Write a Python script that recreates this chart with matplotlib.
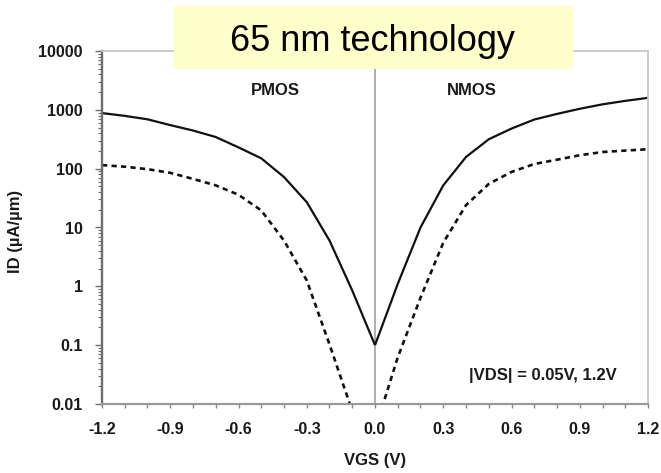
import matplotlib
matplotlib.use("Agg")
import matplotlib.pyplot as plt
from matplotlib.ticker import FixedLocator, FixedFormatter, MultipleLocator, LogLocator, NullFormatter
from matplotlib.patches import Rectangle

plt.rcParams['font.family'] = ['Liberation Sans', 'DejaVu Sans']

# ---- data ----
vgs_pmos_sat = [-1.2, -1.1, -1.0, -0.9, -0.8, -0.7, -0.6, -0.5, -0.4, -0.3, -0.2, -0.1, 0.0]
id_pmos_sat = [880, 790, 690, 550, 445, 345, 230, 150, 72, 27, 6.0, 0.85, 0.1]

vgs_nmos_sat = [0.0, 0.1, 0.2, 0.3, 0.4, 0.5, 0.6, 0.7, 0.8, 0.9, 1.0, 1.1, 1.2]
id_nmos_sat = [0.1, 1.1, 10, 52, 158, 316, 480, 684, 853, 1042, 1240, 1420, 1600]

vgs_pmos_lin = [-1.2, -1.1, -1.0, -0.9, -0.8, -0.7, -0.6, -0.5, -0.4, -0.3, -0.2, -0.1]
id_pmos_lin = [115, 108, 98, 85, 67, 52, 36, 19.5, 6.0, 1.26, 0.103, 0.0076]

vgs_nmos_lin = [0.03, 0.1, 0.2, 0.3, 0.4, 0.5, 0.6, 0.7, 0.8, 0.9, 1.0, 1.1, 1.2]
id_nmos_lin = [0.0085, 0.062, 0.64, 5.5, 24, 55, 88, 120, 142, 169, 192, 203, 214]

xtick_vals = [-1.2, -0.9, -0.6, -0.3, 0.0, 0.3, 0.6, 0.9, 1.2]
xtick_labels = ["-1.2", "-0.9", "-0.6", "-0.3", "0.0", "0.3", "0.6", "0.9", "1.2"]
ytick_vals = [0.01, 0.1, 1, 10, 100, 1000, 10000]
ytick_labels = ["0.01", "0.1", "1", "10", "100", "1000", "10000"]

title = "65 nm technology"
xlabel = "VGS (V)"
ylabel = "ID (\u00b5A/\u00b5m)"
vds_note = "|VDS| = 0.05V, 1.2V"

# ---- figure ----
W, H = 661, 473
fig = plt.figure(figsize=(W / 100, H / 100), dpi=100)
L, R, T, B = 102, 648, 51, 404
ax = fig.add_axes([L / W, 1 - B / H, (R - L) / W, (B - T) / H])

ax.set_yscale('log')
ax.set_xlim(-1.2, 1.2)
ax.set_ylim(0.01, 10000)

solid_kw = dict(color='#111111', lw=1.6, solid_capstyle='butt', solid_joinstyle='round')
dash_kw = dict(color='#111111', lw=1.9, linestyle=(0, (2.0, 1.6)), dash_capstyle='butt')
ax.plot(vgs_pmos_sat, id_pmos_sat, **solid_kw)
ax.plot(vgs_nmos_sat, id_nmos_sat, **solid_kw)
ax.plot(vgs_pmos_lin, id_pmos_lin, **dash_kw)
ax.plot(vgs_nmos_lin, id_nmos_lin, **dash_kw)

ax.axvline(0.0, color='#a8a8a8', lw=1.3, zorder=1)

# spines
ax.spines['left'].set_color('#6e6e6e')
ax.spines['left'].set_linewidth(1.7)
ax.spines['bottom'].set_color('#999999')
ax.spines['bottom'].set_linewidth(1.6)
for s in ('top', 'right'):
    ax.spines[s].set_color('#c8c8c8')
    ax.spines[s].set_linewidth(1.3)

# ticks
ax.xaxis.set_major_locator(FixedLocator(xtick_vals))
ax.xaxis.set_major_formatter(FixedFormatter(xtick_labels))
ax.xaxis.set_minor_locator(MultipleLocator(0.1))
ax.yaxis.set_major_locator(FixedLocator(ytick_vals))
ax.yaxis.set_major_formatter(FixedFormatter(ytick_labels))
ax.yaxis.set_minor_locator(LogLocator(base=10, subs=range(2, 10), numticks=20))
ax.yaxis.set_minor_formatter(NullFormatter())

ax.tick_params(axis='x', which='both', direction='out', length=3, width=1, color='#888888',
               labelsize=11.5, pad=10)
ax.tick_params(axis='y', which='major', direction='out', length=5, width=1, color='#6e6e6e',
               labelsize=11.5, pad=9)
ax.tick_params(axis='y', which='minor', direction='out', length=3, width=0.8, color='#6e6e6e')
for lab in ax.get_xticklabels() + ax.get_yticklabels():
    lab.set_fontweight('bold')
    lab.set_color('#1a1a1a')

ax.set_xlabel(xlabel, fontsize=12, fontweight='bold', color='#1a1a1a')
ax.set_ylabel(ylabel, fontsize=12, fontweight='bold', color='#1a1a1a')
ax.xaxis.set_label_coords(0.5, -0.14)
ax.yaxis.set_label_coords(-0.145, 0.49)

ax.text(-0.44, 2100, "PMOS", ha='center', va='center', fontsize=12, fontweight='bold', color='#1a1a1a')
ax.text(0.425, 2100, "NMOS", ha='center', va='center', fontsize=12, fontweight='bold', color='#1a1a1a')
ax.text(0.736, 0.031, vds_note, ha='center', va='center', fontsize=12, fontweight='bold', color='#1a1a1a')

# title box
fig.patches.append(Rectangle((174 / W, 1 - 69 / H), 399 / W, 63 / H, transform=fig.transFigure,
                             facecolor='#ffffcc', edgecolor='none', zorder=5))
fig.text(373 / W, 1 - 51 / H, title, ha='center', va='baseline', fontsize=26, color='black', zorder=6)

fig.savefig('out.png', dpi=100)
